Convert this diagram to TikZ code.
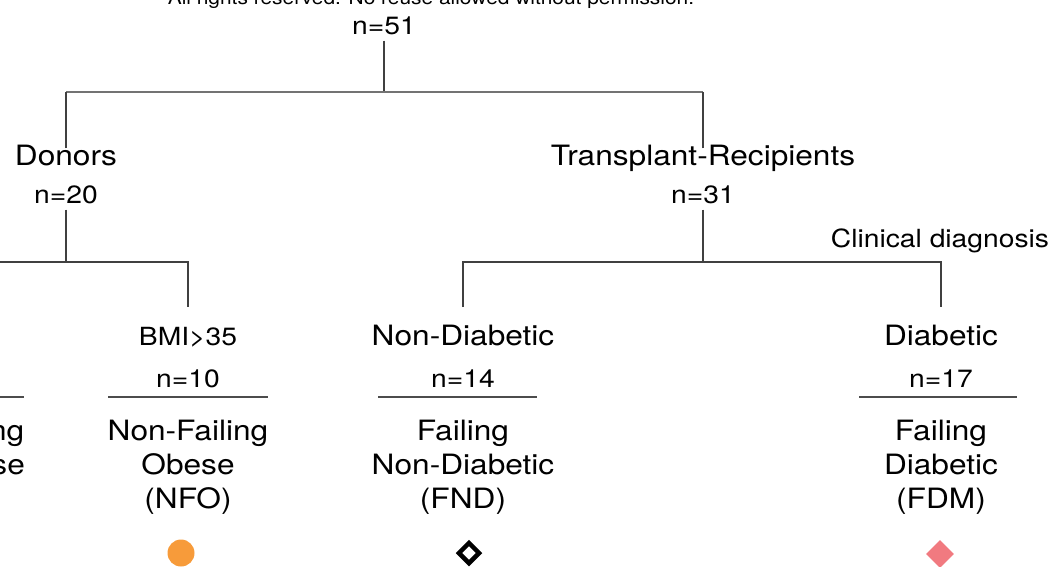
\documentclass[tikz,border=0pt]{standalone}
\usepackage{fontspec}
\setmainfont[FakeStretch=1.13]{TeX Gyre Heros}
\usepackage{tikz}
\usetikzlibrary{positioning, calc, shapes.geometric}
\definecolor{nfo-orange}{RGB}{247,155,58}
\definecolor{fdm-pink}{RGB}{241,122,128}

\begin{document}
\begin{tikzpicture}[x=1pt, y=1pt, inner xsep=0pt,
  big/.style={font=\fontsize{28}{34}\selectfont, align=center, anchor=base, inner ysep=0pt},
  head/.style={big, text height=0.75em, text depth=0.25em, inner ysep=9pt},
  small/.style={font=\fontsize{25}{30}\selectfont, anchor=base, text height=0.75em, text depth=0.25em, inner ysep=4pt},
  note/.style={font=\fontsize{18.5}{20}\selectfont, anchor=base},
  tree/.style={draw=black!75, line width=1.2pt},
  rule/.style={draw=black!70, line width=1.1pt}]

\useasboundingbox (0,0) rectangle (1051,-566);
\clip (0,0) rectangle (1051,-566);

\node[note] (notice) at (431,-4) {All rights reserved. No reuse allowed without permission.};

\node[small] (n51) at (384,-34) {n=51};
\node[head] (don) at (66,-165) {Donors};
\node[small] (n20) at (66,-203) {n=20};
\node[head] (rec) at (703,-165) {Transplant-Recipients};
\node[small] (n31) at (703,-203) {n=31};
\node[small] (clin) at (940,-247) {Clinical diagnosis};

% base anchor = last line of a stacked label
\node[big] (nfl) at (-56,-474) {Non-Failing\\Non-Obese};
\node[small] (bmi) at (188,-345) {BMI>35};
\node[small] (n10) at (188,-387) {n=10};
\node[big] (nfo) at (188,-508) {Non-Failing\\Obese\\(NFO)};
\node[head] (nd) at (463,-345) {Non-Diabetic};
\node[small] (n14) at (463,-387) {n=14};
\node[big] (fnd) at (463,-508) {Failing\\Non-Diabetic\\(FND)};
\node[head] (dia) at (941,-345) {Diabetic};
\node[small] (n17) at (941,-387) {n=17};
\node[big] (fdm) at (941,-508) {Failing\\Diabetic\\(FDM)};

\node[circle, fill=nfo-orange, minimum size=27pt, inner sep=0pt] (nfo-m) at (181,-553) {};
\node[diamond, draw, line width=4.5pt, minimum size=22pt, inner sep=0pt] (fnd-m) at (469,-553) {};
\node[diamond, fill=fdm-pink, minimum size=28pt, inner sep=0pt] (fdm-m) at (940,-554) {};

\coordinate (split1) at (0,-92);
\coordinate (split2) at (0,-262);
\coordinate (level3) at (0,-307);
\coordinate (level4) at (0,-397);

\draw[tree] (n51.south) -- (n51.south |- split1);
\draw[tree, line width=2pt, draw=black!55] (don.north |- split1) -- (rec.north |- split1);
\draw[tree] (don.north) -- (don.north |- split1);
\draw[tree] (rec.north) -- (rec.north |- split1);

\draw[tree] (n20.south) -- (n20.south |- split2);
\draw[tree] (nfl |- level3) -- (nfl |- split2) -- (bmi |- split2) -- (bmi |- level3);
\draw[tree] (n31.south) -- (n31.south |- split2);
\draw[tree] (nd |- level3) -- (nd |- split2) -- (dia |- split2) -- (dia |- level3);

\draw[rule] ($(nfl |- level4)+(-80,0)$) -- ($(nfl |- level4)+(80,0)$);
\draw[rule] ($(nfo |- level4)+(-80,0)$) -- ($(nfo |- level4)+(80,0)$);
\draw[rule] ($(fnd |- level4)+(-85,0)$) -- ($(fnd |- level4)+(74,0)$);
\draw[rule] ($(fdm |- level4)+(-82,0)$) -- ($(fdm |- level4)+(76,0)$);

\end{tikzpicture}
\end{document}
